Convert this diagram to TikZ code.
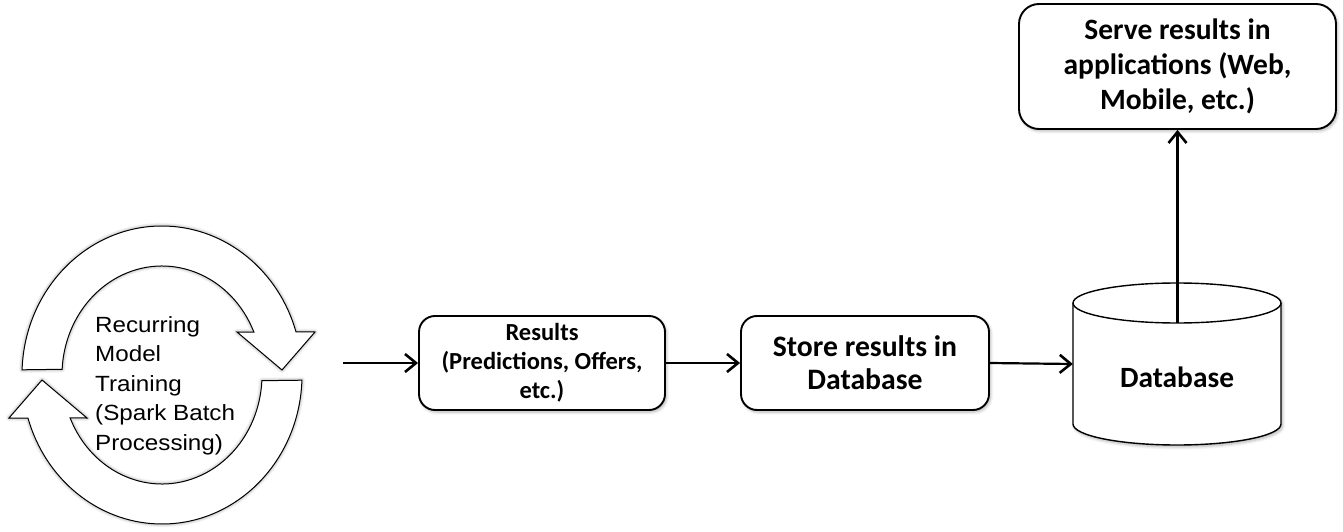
\documentclass[tikz,border=0pt]{standalone}
\usepackage{fontspec}
\setmainfont{Carlito}
\newfontfamily\arialfont[FakeStretch=1.1]{Liberation Sans}
\usetikzlibrary{arrows.meta,shadows.blur,calc}
\tikzset{
  cyc/.style={draw, line width=1pt, fill=white,
    blur shadow={shadow xshift=0pt, shadow yshift=0pt, shadow blur radius=3.5pt, shadow blur steps=6, shadow opacity=45}},
  cyclearrow/.pic={
    \path[cyc] (178:140 and 149)
      arc[start angle=178, end angle=16.8, x radius=140, y radius=149]
      -- (153,43) -- (120,5) -- (75,43) -- (23.2:100 and 109)
      arc[start angle=23.2, end angle=177, x radius=100, y radius=109]
      -- cycle;
  },
  box/.style={draw, line width=1.9pt, rounded corners=16pt, fill=white, align=center,
    font=\bfseries, inner sep=0pt,
    blur shadow={shadow xshift=1.5pt, shadow yshift=-2pt, shadow blur radius=3pt, shadow blur steps=6, shadow opacity=30}},
  conn/.style={line width=2.2pt, -{Straight Barb[length=11pt,width=18pt,line width=2.6pt]}},
}
\begin{document}
\begin{tikzpicture}[x=1pt,y=1pt]
\useasboundingbox (0,0) rectangle (1343,531);
% recurring training cycle
\coordinate (C) at (162,156);
\pic at (C) {cyclearrow};
\pic[rotate=180] at (C) {cyclearrow};
\node[anchor=north west, align=left, inner sep=0pt,
  font=\arialfont\fontsize{22}{29.5}\selectfont] (train) at (95,215)
  {Recurring\\Model\\Training\\(Spark Batch\\Processing)};
\coordinate (cycout) at (343,168);
% boxes
\node[box, minimum width=246, minimum height=94, font=\bfseries\fontsize{24.5}{29}\selectfont]
  (results) at (542,168) {Results\\(Predictions, Offers,\\etc.)};
\node[box, minimum width=248, minimum height=94, font=\bfseries\fontsize{29.7}{33}\selectfont]
  (store) at (865,168) {Store results in\\Database};
\node[box, rounded corners=20pt, minimum width=317, minimum height=125, font=\bfseries\fontsize{29.5}{35}\selectfont]
  (serve) at (1177.5,464.5) {Serve results in\\applications (Web,\\Mobile, etc.)};
% database cylinder
\path[draw, line width=1.4pt, fill=white,
  blur shadow={shadow xshift=1.5pt, shadow yshift=-2pt, shadow blur radius=3pt, shadow blur steps=6, shadow opacity=30}]
  (1073,228) -- (1073,107)
  arc[start angle=180, end angle=360, x radius=104, y radius=21]
  -- (1281,228)
  arc[start angle=0, end angle=180, x radius=104, y radius=20] -- cycle;
\draw[line width=1.4pt] (1073,228) arc[start angle=180, end angle=360, x radius=104, y radius=20];
\node[minimum width=208, minimum height=162, inner sep=0pt] (db) at (1177,167) {};
\node[font=\bfseries\fontsize{29.4}{33}\selectfont] (dblabel) at (1177,154) {Database};
\coordinate (dbtop) at (1177.5,208);
% connectors
\draw[conn] (cycout) -- (results.west);
\draw[conn] (results.east) -- (store.west);
\draw[conn] (store.east) -- (db.west);
\draw[conn] (dbtop) -- (serve.south);
\end{tikzpicture}
\end{document}
